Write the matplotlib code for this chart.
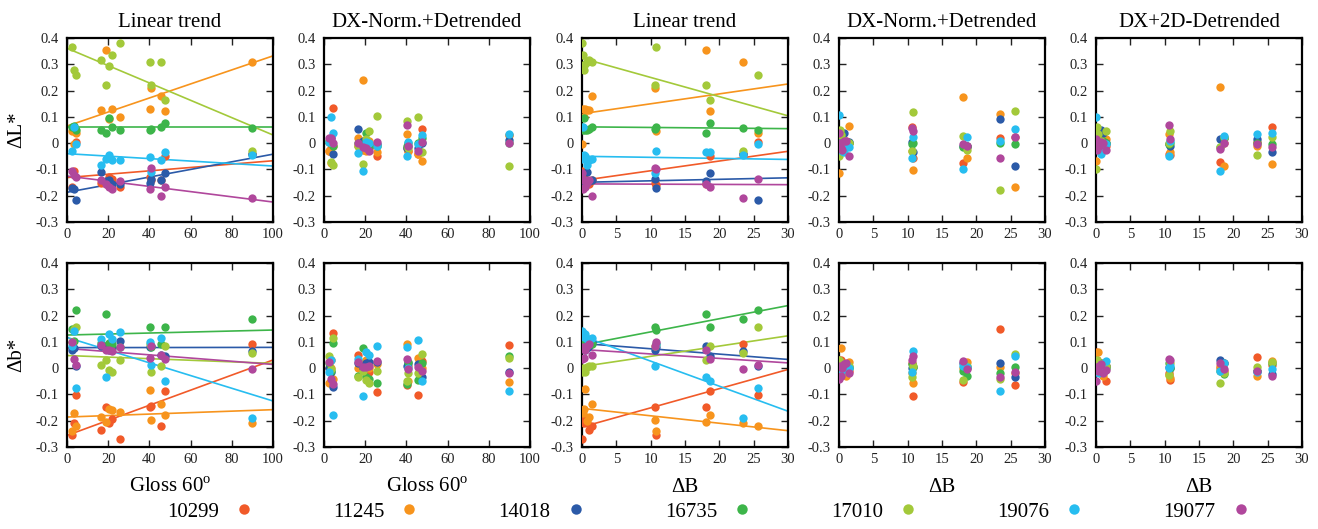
import numpy as np
import matplotlib
matplotlib.use("Agg")
import matplotlib.pyplot as plt
from matplotlib.lines import Line2D
from matplotlib.ticker import FuncFormatter, MultipleLocator

plt.rcParams['font.family'] = ['Liberation Serif', 'DejaVu Serif']
plt.rcParams['mathtext.fontset'] = 'custom'
plt.rcParams['mathtext.rm'] = 'Liberation Serif'
plt.rcParams['axes.unicode_minus'] = False

# series (order: 10299, 11245, 14018, 16735, 17010, 19076, 19077)
series_names = ['10299', '11245', '14018', '16735', '17010', '19076', '19077']
series_colors = ['#f15a29', '#f7941d', '#2b5aa8', '#3db54a', '#a3c93a', '#27bdf0', '#b0479c']

# x positions of the samples
gloss = [2.5, 3.5, 4.5, 16.7, 18.7, 20.6, 21.7, 25.6, 40.5, 40.8, 45.6, 47.5, 89.7]
delta_b = [0.0, 0.1, 0.3, 0.5, 0.8, 1.0, 1.5, 10.6, 10.8, 18.0, 18.7, 23.5, 25.7]

# ---- dL* values ----
dL_gloss_trend = [
    [-0.165, -0.105, 0.005, -0.15, -0.155, -0.13, -0.135, -0.165, -0.13, -0.14, -0.14, -0.05, -0.04],
    [0.045, -0.005, 0.04, 0.125, 0.355, 0.09, 0.13, 0.10, 0.13, 0.21, 0.18, 0.122, 0.31],
    [-0.17, -0.175, -0.215, -0.11, -0.145, -0.14, -0.155, -0.155, -0.15, -0.135, -0.14, -0.115, -0.04],
    [0.06, 0.065, 0.05, 0.05, 0.04, 0.097, 0.063, 0.05, 0.05, 0.055, 0.06, 0.075, 0.058],
    [0.365, 0.28, 0.26, 0.315, 0.22, 0.295, 0.335, 0.38, 0.31, 0.22, 0.307, 0.165, -0.028],
    [-0.03, 0.06, -0.005, -0.085, -0.06, -0.045, -0.065, -0.065, -0.052, -0.11, -0.065, -0.035, -0.045],
    [-0.105, -0.12, -0.13, -0.14, -0.155, -0.165, -0.175, -0.145, -0.175, -0.095, -0.2, -0.165, -0.21],
]
dL_gloss_dxnorm = [
    [-0.03, -0.02, 0.135, -0.01, -0.025, 0.0, -0.02, -0.048, -0.02, -0.03, -0.04, 0.052, 0.03],
    [-0.03, -0.075, -0.01, 0.02, 0.24, -0.03, 0.01, -0.035, 0.035, -0.03, -0.04, -0.068, 0.03],
    [0.005, 0.02, -0.04, 0.052, 0.01, 0.005, -0.01, -0.005, -0.02, -0.01, -0.02, 0.0, 0.012],
    [0.01, 0.0, -0.01, 0.0, -0.01, 0.04, -0.015, -0.01, -0.01, 0.0, 0.0, 0.02, 0.0],
    [0.005, -0.07, -0.085, -0.01, -0.078, 0.015, 0.045, 0.105, 0.085, -0.02, 0.1, -0.035, -0.088],
    [0.005, 0.1, 0.038, -0.038, -0.105, 0.005, 0.0, -0.012, -0.05, 0.005, -0.005, 0.03, 0.036],
    [0.02, 0.018, 0.0, 0.0, -0.015, -0.02, -0.03, 0.005, 0.07, -0.012, -0.03, 0.005, 0.0],
]
dL_db_trend = [
    [-0.105, -0.165, -0.13, -0.14, -0.15, -0.155, -0.14, -0.15, -0.16, -0.155, -0.05, -0.04, 0.005],
    [-0.005, 0.13, 0.10, 0.13, 0.125, 0.125, 0.18, 0.21, 0.045, 0.355, 0.122, 0.31, 0.04],
    [-0.15, -0.17, -0.16, -0.155, -0.11, -0.145, -0.14, -0.135, -0.17, -0.145, -0.115, -0.04, -0.215],
    [0.06, 0.05, 0.097, 0.05, 0.05, 0.055, 0.06, 0.055, 0.063, 0.04, 0.077, 0.058, 0.05],
    [0.38, 0.335, 0.28, 0.30, 0.31, 0.315, 0.31, 0.22, 0.367, 0.22, 0.165, -0.028, 0.26],
    [-0.06, 0.06, -0.045, -0.05, -0.085, -0.065, -0.062, -0.112, -0.03, -0.035, -0.035, -0.045, -0.005],
    [-0.115, -0.175, -0.14, -0.165, -0.15, -0.14, -0.2, -0.095, -0.1, -0.155, -0.165, -0.21, -0.135],
]
dL_db_dxnorm = [
    [0.02, -0.01, 0.0, -0.02, 0.0, 0.01, 0.0, 0.06, -0.058, -0.075, -0.01, 0.018, 0.025],
    [-0.113, 0.045, 0.02, 0.0, 0.01, 0.0, 0.065, -0.03, -0.103, 0.175, -0.058, 0.11, -0.167],
    [-0.025, 0.0, -0.01, 0.01, 0.038, 0.0, 0.005, 0.005, -0.032, -0.01, -0.012, 0.093, -0.087],
    [0.0, 0.02, 0.035, -0.01, 0.005, -0.005, 0.0, -0.005, 0.0, -0.015, -0.015, 0.0, -0.005],
    [-0.048, 0.05, 0.03, 0.0, 0.01, 0.0, 0.0, -0.03, 0.12, 0.028, -0.025, -0.18, 0.123],
    [0.108, 0.0, -0.02, -0.03, -0.035, -0.01, -0.015, -0.058, 0.022, -0.098, 0.022, 0.01, 0.055],
    [0.038, 0.0, -0.02, -0.025, 0.01, 0.01, -0.048, 0.058, 0.045, -0.005, -0.01, -0.058, 0.022],
]
dL_db_2d = [
    [0.045, 0.0, -0.02, 0.01, -0.01, 0.0, -0.01, -0.04, -0.045, -0.072, 0.0, 0.005, 0.062],
    [-0.068, 0.03, 0.0, 0.02, 0.02, 0.02, 0.015, 0.035, -0.035, 0.215, -0.087, -0.01, -0.08],
    [0.0, 0.01, 0.02, -0.005, 0.05, 0.04, 0.0, -0.005, -0.01, 0.015, 0.02, 0.015, -0.033],
    [0.005, -0.01, 0.01, -0.02, 0.0, 0.01, 0.0, -0.005, 0.0, -0.015, 0.02, 0.0, -0.005],
    [-0.1, 0.06, 0.035, 0.0, 0.01, 0.0, 0.048, 0.0, 0.045, -0.015, 0.022, -0.045, 0.025],
    [0.1, -0.01, 0.0, -0.01, -0.04, -0.02, -0.005, -0.05, 0.01, -0.105, 0.028, 0.036, 0.038],
    [0.015, -0.025, 0.0, -0.01, 0.005, 0.0, -0.025, 0.068, 0.015, -0.022, 0.0, -0.005, -0.015],
]

# ---- db* values ----
db_gloss_trend = [
    [-0.255, -0.21, -0.102, -0.235, -0.148, -0.21, -0.195, -0.27, -0.148, -0.145, -0.22, -0.088, 0.093],
    [-0.24, -0.17, -0.22, -0.185, -0.205, -0.155, -0.16, -0.165, -0.082, -0.197, -0.135, -0.18, -0.21],
    [0.07, 0.075, 0.008, 0.085, 0.085, 0.07, 0.075, 0.105, 0.08, 0.085, 0.05, 0.048, 0.066],
    [0.148, 0.105, 0.222, 0.095, 0.205, 0.095, 0.09, 0.08, 0.155, 0.08, 0.09, 0.155, 0.188],
    [0.1, 0.15, 0.158, 0.012, 0.03, -0.008, -0.015, 0.03, 0.09, -0.015, 0.01, 0.085, 0.057],
    [0.085, 0.14, -0.077, 0.112, -0.035, 0.128, 0.11, 0.138, 0.1, 0.012, 0.115, -0.048, -0.19],
    [0.1, 0.035, 0.012, 0.088, 0.07, 0.07, 0.065, 0.082, 0.04, 0.085, 0.05, 0.035, -0.003],
]
db_gloss_dxnorm = [
    [0.0, 0.03, 0.135, 0.05, 0.0, 0.01, -0.015, -0.092, -0.065, 0.01, -0.102, 0.028, 0.088],
    [-0.055, 0.0, -0.04, 0.0, 0.02, 0.03, 0.0, 0.015, 0.093, -0.05, 0.038, 0.0, -0.053],
    [0.0, -0.015, -0.07, 0.02, 0.0, 0.02, 0.025, 0.025, 0.01, 0.02, 0.015, -0.032, -0.015],
    [0.02, -0.01, 0.095, -0.03, 0.075, -0.035, -0.04, -0.055, -0.06, 0.025, -0.045, 0.02, 0.045],
    [0.045, -0.005, 0.115, -0.035, -0.01, -0.045, -0.055, -0.01, -0.05, -0.02, -0.02, 0.055, 0.04],
    [-0.015, 0.032, -0.18, 0.035, -0.107, 0.06, 0.05, 0.083, 0.08, 0.0, 0.108, -0.05, -0.088],
    [0.025, -0.04, -0.06, 0.022, 0.005, 0.005, 0.01, 0.028, 0.035, -0.005, 0.005, -0.012, -0.02],
]
db_db_trend = [
    [-0.27, -0.2, -0.21, -0.195, -0.21, -0.235, -0.22, -0.148, -0.255, -0.148, -0.088, 0.093, -0.103],
    [-0.165, -0.17, -0.155, -0.08, -0.2, -0.185, -0.135, -0.197, -0.24, -0.205, -0.18, -0.21, -0.22],
    [0.075, 0.085, 0.08, 0.07, 0.075, 0.085, 0.1, 0.07, 0.08, 0.083, 0.048, 0.064, 0.008],
    [0.1, 0.105, 0.09, 0.095, 0.1, 0.105, 0.092, 0.155, 0.145, 0.205, 0.155, 0.188, 0.222],
    [-0.015, 0.0, -0.01, -0.015, 0.005, 0.01, 0.008, 0.085, 0.09, 0.03, 0.085, 0.057, 0.158],
    [0.14, 0.135, 0.12, 0.128, 0.11, 0.112, 0.113, 0.01, 0.09, -0.035, -0.048, -0.188, -0.077],
    [0.035, 0.08, 0.04, 0.07, 0.085, 0.09, 0.05, 0.085, 0.098, 0.07, 0.035, -0.002, 0.012],
]
db_db_dxnorm = [
    [0.03, 0.02, 0.03, -0.01, 0.0, 0.015, -0.01, 0.02, -0.105, -0.052, 0.0, 0.15, -0.065],
    [-0.02, 0.0, 0.075, 0.0, -0.01, -0.03, 0.022, -0.02, -0.058, 0.0, 0.022, 0.005, -0.02],
    [-0.01, 0.0, 0.005, 0.01, 0.0, 0.0, 0.005, 0.0, 0.005, 0.02, 0.005, 0.018, -0.035],
    [0.0, 0.02, 0.01, -0.01, 0.005, 0.01, 0.0, 0.015, 0.005, -0.01, -0.028, -0.018, 0.005],
    [0.03, 0.01, 0.0, 0.02, -0.01, 0.0, 0.01, -0.035, 0.01, -0.045, 0.01, -0.04, 0.055],
    [0.005, -0.01, -0.015, 0.0, -0.005, 0.01, 0.0, -0.015, 0.067, 0.01, 0.005, -0.088, 0.048],
    [-0.04, 0.01, -0.03, 0.0, 0.015, 0.02, -0.018, 0.03, 0.045, 0.028, -0.005, -0.035, -0.015],
]
db_db_2d = [
    [0.062, 0.03, 0.0, -0.01, 0.01, -0.02, -0.048, -0.02, -0.045, 0.0, -0.01, 0.042, 0.012],
    [0.0, 0.03, 0.062, 0.0, -0.02, -0.03, 0.01, -0.025, -0.038, 0.01, 0.018, -0.028, 0.028],
    [0.01, 0.0, 0.02, 0.01, 0.02, 0.0, 0.01, 0.005, 0.0, 0.03, 0.02, -0.01, -0.022],
    [0.0, 0.02, 0.01, -0.01, 0.005, 0.0, 0.0, 0.018, 0.0, -0.01, -0.022, -0.01, 0.02],
    [0.02, 0.03, 0.0, 0.01, -0.01, 0.02, 0.01, -0.025, 0.02, -0.058, -0.02, 0.005, 0.022],
    [-0.015, 0.0, -0.01, -0.02, 0.01, -0.015, 0.028, 0.0, 0.01, -0.012, 0.02, -0.015, -0.005],
    [-0.048, 0.005, -0.01, 0.01, 0.015, -0.02, -0.008, 0.035, 0.032, 0.02, -0.003, -0.01, -0.03],
]

# linear trend fits (intercept, slope) per series
fit_dL_gloss = [(-0.131, 0.00064), (0.065, 0.00267), (-0.187, 0.00145), (0.060, 0.0),
                (0.361, -0.0033), (-0.040, -0.00047), (-0.125, -0.00099)]
fit_dL_db = [(-0.142, 0.0037), (0.112, 0.00377), (-0.149, 0.00057), (0.062, -0.00023),
             (0.323, -0.0073), (-0.050, -0.0004), (-0.155, -0.0001)]
fit_db_gloss = [(-0.256, 0.00287), (-0.186, 0.00028), (0.078, 0.00001), (0.126, 0.00019),
                (0.048, -0.0003), (0.117, -0.00242), (0.075, -0.00061)]
fit_db_db = [(-0.224, 0.0073), (-0.153, -0.00283), (0.094, -0.00203), (0.088, 0.0050),
             (0.006, 0.0039), (0.122, -0.00953), (0.071, -0.0017)]

titles = ['Linear trend', 'DX-Norm.+Detrended', 'Linear trend',
          'DX-Norm.+Detrended', 'DX+2D-Detrended']

W, H = 1318, 529
fig = plt.figure(figsize=(W / 100, H / 100), dpi=100)

lefts = [67, 324, 582, 839, 1096]
ax_w, ax_h = 206, 184
tops = [38, 263]

panels = [
    # row 0
    [(gloss, dL_gloss_trend, fit_dL_gloss, 100), (gloss, dL_gloss_dxnorm, None, 100),
     (delta_b, dL_db_trend, fit_dL_db, 30), (delta_b, dL_db_dxnorm, None, 30),
     (delta_b, dL_db_2d, None, 30)],
    # row 1
    [(gloss, db_gloss_trend, fit_db_gloss, 100), (gloss, db_gloss_dxnorm, None, 100),
     (delta_b, db_db_trend, fit_db_db, 30), (delta_b, db_db_dxnorm, None, 30),
     (delta_b, db_db_2d, None, 30)],
]

fmt = FuncFormatter(lambda v, p: '%g' % round(v, 3))

for r in range(2):
    for c in range(5):
        xs, ys, fits, xmax = panels[r][c]
        ax = fig.add_axes([lefts[c] / W, 1 - (tops[r] + ax_h) / H, ax_w / W, ax_h / H])
        for k in range(7):
            ax.scatter(xs, ys[k], s=36, color=series_colors[k], linewidths=0, zorder=3)
        if fits is not None:
            xl = np.array([0, xmax])
            for k, (a, b) in enumerate(fits):
                ax.plot(xl, a + b * xl, color=series_colors[k], lw=1.2, zorder=2)
        ax.set_xlim(0, xmax)
        ax.set_ylim(-0.3, 0.4)
        ax.xaxis.set_major_locator(MultipleLocator(20 if xmax == 100 else 5))
        ax.yaxis.set_major_locator(MultipleLocator(0.1))
        ax.yaxis.set_major_formatter(fmt)
        ax.tick_params(direction='in', top=True, right=True, length=5, width=1,
                       labelsize=10.5, colors='#222222')
        ax.tick_params(axis='y', pad=6)
        ax.tick_params(axis='x', pad=4)
        for sp in ax.spines.values():
            sp.set_linewidth(1.6)
        if r == 0:
            ax.set_title(titles[c], fontsize=15, pad=8)
        else:
            if xmax == 100:
                ax.set_xlabel(r'Gloss 60$^{\mathrm{o}}$', fontsize=15, labelpad=9)
            else:
                ax.set_xlabel('ΔB', fontsize=15, labelpad=9)
        if c == 0:
            ax.set_ylabel('ΔL*' if r == 0 else 'Δb*', fontsize=15, labelpad=7)

handles = [Line2D([], [], ls='none', marker='o', markersize=7.5, markeredgewidth=0,
                  color=col) for col in series_colors]
fig.legend(handles, series_names, ncol=7, loc='center', bbox_to_anchor=(709 / W, 1 - 512 / H),
           frameon=False, markerfirst=False, fontsize=15, handlelength=1.0,
           handletextpad=0.7, columnspacing=3.78)

fig.savefig('out.png', dpi=100)
